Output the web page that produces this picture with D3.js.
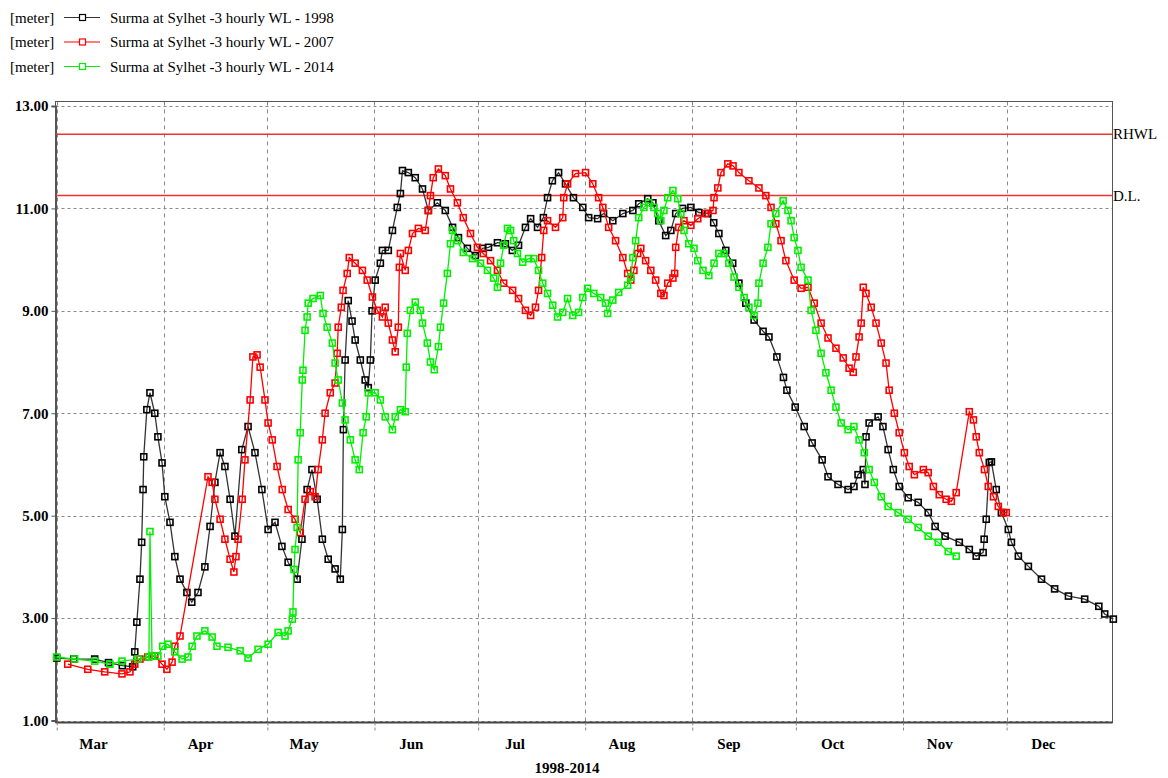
<!DOCTYPE html>
<html><head><meta charset="utf-8">
<script src="https://cdn.jsdelivr.net/npm/d3@7/dist/d3.min.js"></script>
<style>body{margin:0;background:#fff}svg{display:block}</style>
</head><body>
<svg id="chart" width="1168" height="778"></svg>
<script>
// ---- data ----
const months = ["Mar","Apr","May","Jun","Jul","Aug","Sep","Oct","Nov","Dec"];
const yTicks = [1, 3, 5, 7, 9, 11, 13];
const xTitle = "1998-2014";
const unitLabel = "[meter]";
const seriesNames = ["Surma at Sylhet -3 hourly WL - 1998", "Surma at Sylhet -3 hourly WL - 2007", "Surma at Sylhet -3 hourly WL - 2014"];
const refNames = ["RHWL", "D.L."];
const refValues = [12.45, 11.25];

// days since 1 March, water level [m]
const days1998 = [0,5,11,15,19,22,22.6,23.2,24.1,24.6,25.0,25.2,26.1,27,28.4,29.3,30.5,31.3,32.8,34.2,35.7,37.7,39.1,40.9,42.9,44.4,45.8,47.3,48.7,50.2,51.6,53.6,55.4,57.4,59.4,61.2,63.2,65.2,67.0,69.6,71.0,72.5,73.9,75.4,76.9,78.6,80.6,82.1,82.7,83.0,83.5,84.4,85.5,86.4,87.9,89.3,90.2,90.8,91.3,92.2,93.7,94.3,96,97.2,98.6,99.5,100.1,101.8,103.8,105.9,107.6,110.2,112.5,114.6,116.3,118.9,121.2,123.3,125,127.6,129.9,131.9,133.7,135.7,137.2,139.2,140.9,142.1,143.5,145.3,147.3,149.6,152.3,154,156.6,158.3,161,163.9,166.8,168.5,171.1,172.6,174.3,176.3,177.8,179.2,181.2,183.6,185.9,188.5,190.2,191.7,193.7,195.7,197.5,199.5,201.9,204.5,206.2,208.5,210.4,211.4,213.8,216.4,218.7,221.6,223.3,226.2,229.1,230.8,232,233.5,234,234.3,235.2,237.8,239.2,240.7,242.2,243.9,246.5,249.4,252.3,254.3,257.2,261.3,264.2,266.2,268.2,268.5,269.1,270,270.6,272,273.5,275.5,276.4,278.4,281.3,285.1,288.9,292.9,297.6,301.7,303.4,305.9];
const wl1998 = [2.22,2.2,2.2,2.13,2.07,2.05,2.34,2.92,3.76,4.48,5.51,6.15,7.07,7.4,7.0,6.54,6.03,5.37,4.87,4.2,3.76,3.5,3.31,3.5,4.0,4.79,5.65,6.23,5.96,5.32,4.6,6.29,6.74,6.23,5.51,4.73,4.87,4.4,4.09,3.76,4.54,5.51,5.9,5.32,4.54,4.15,3.96,3.76,4.73,6.68,8.04,9.2,8.8,8.43,8.04,7.65,7.5,8.04,9.0,9.6,9.93,10.18,10.18,10.57,11.02,11.29,11.74,11.7,11.6,11.38,10.96,11.11,10.96,10.63,10.43,10.22,10.08,10.22,10.24,10.33,10.31,10.18,10.28,10.63,10.8,10.63,10.82,11.21,11.54,11.7,11.48,11.21,11.02,10.82,10.8,10.9,10.76,10.9,10.96,11.09,11.19,11.11,10.76,10.47,10.57,10.9,11.0,11.02,10.92,10.9,10.72,10.51,10.18,9.93,9.54,9.15,8.82,8.6,8.49,8.1,7.7,7.45,7.12,6.74,6.42,6.09,5.76,5.61,5.51,5.57,5.8,5.9,5.61,6.54,6.81,6.93,6.74,6.29,5.9,5.57,5.35,5.26,5.06,4.79,4.6,4.48,4.34,4.21,4.28,4.54,4.93,6.04,6.05,5.51,5.06,4.73,4.48,4.21,4.01,3.76,3.57,3.43,3.37,3.23,3.08,2.98];

const days2007 = [3.2,9.0,13.9,18.9,21.2,22.6,24.1,26.4,28.4,30.5,31.9,33.4,34.2,35.7,43.8,45.0,45.8,47.3,48.7,50.2,51.3,51.9,52.5,53.7,54.5,56.0,56.8,58.0,58.9,60.3,61.2,62.4,63.8,65.3,67.0,69.0,70.5,71.9,73.4,74.8,75.7,76.9,77.7,79.2,80.6,81.2,81.5,82.4,82.9,84.1,84.7,86.4,88.5,89.9,91.4,92.8,94.3,95.1,96.0,97.2,98.0,98.9,99.2,99.5,100.9,101.8,103.0,104.7,106.7,107.6,108.2,109.0,110.5,112.5,114.0,116.0,117.7,119.8,121.8,123.5,125.6,127.6,129.4,132.0,133.7,135.7,137.2,138.6,139.5,140.4,141.0,142.1,144.4,146.5,146.8,147.9,150.2,153.1,155.2,156.9,158.1,159.8,161.8,163.9,165.3,166.2,167.1,168.2,169.1,170.5,172.0,173.4,174.9,175.8,176.9,178.4,178.9,179.2,180.1,181.6,183.6,185.6,187.9,190.0,190.3,191.4,192.3,194.3,195.8,197.5,200.4,203.3,205.3,206.8,208.2,209.7,211.1,213.5,215.5,217.5,219.3,221.3,223.3,225.6,227.7,229.4,230.6,231.4,232.3,232.9,233.5,234.3,235.8,237.2,238.7,240.1,241.0,242.5,243.9,245.4,246.8,248.3,250.9,252.3,253.8,255.5,257.5,259.0,260.4,264.2,265.4,266.2,267.1,268.6,269.7,271.2,272.6,274.1,274.9];
const wl2007 = [2.1,2.0,1.95,1.91,1.95,2.1,2.2,2.24,2.26,2.1,2.0,2.14,2.45,2.65,5.76,5.65,5.32,4.93,4.54,4.15,3.9,4.2,4.54,5.32,6.09,7.26,8.1,8.14,7.9,7.26,6.81,6.48,5.96,5.51,5.12,4.93,4.67,5.32,5.47,5.37,5.9,6.48,7.0,7.4,7.59,8.17,8.68,9.07,9.4,9.73,10.04,9.93,9.79,9.6,9.27,9.01,8.88,9.07,8.76,8.43,8.2,8.68,9.85,10.12,9.79,10.18,10.51,10.61,10.57,10.96,11.25,11.6,11.77,11.64,11.38,11.11,10.82,10.51,10.24,10.12,9.98,9.79,9.54,9.4,9.24,9.01,8.91,9.07,9.4,10.04,10.57,10.76,10.63,10.82,11.21,11.48,11.68,11.7,11.48,11.21,11.02,10.63,10.37,10.04,9.73,9.6,9.79,10.12,10.22,9.98,9.79,9.6,9.34,9.3,9.54,9.64,9.73,10.24,10.63,10.76,10.67,10.8,10.9,10.96,11.21,11.4,11.7,11.87,11.83,11.7,11.54,11.4,11.25,11.02,10.7,10.37,9.98,9.6,9.44,9.46,9.15,8.76,8.47,8.27,8.08,7.88,7.8,8.1,8.49,8.76,9.46,9.34,9.07,8.76,8.37,7.98,7.45,7.0,6.62,6.23,5.96,5.8,5.9,5.84,5.57,5.41,5.32,5.28,5.45,7.03,6.87,6.54,6.23,5.9,5.57,5.37,5.18,5.06,5.06];

const days2014 = [0,5.2,11.0,15.4,18.9,23.5,26.7,27.0,27.6,29.3,30.7,32.2,34.2,36.3,38.0,39.2,40.6,42.9,45.0,46.4,49.6,53.1,55.4,58.3,61.2,64.1,66.1,67.0,68.2,68.4,68.7,69.0,69.6,69.9,70.5,71.1,71.3,71.9,72.5,72.8,74.2,76.3,77.1,78.3,79.8,80.6,81.5,82.7,83.5,85.0,86.4,87.6,88.7,89.6,90.2,92.2,93.7,95.1,97.2,98.0,99.5,100.9,101.2,101.5,102.4,103.8,105.3,105.9,107.3,108.2,109.3,110.5,111.1,112.0,113.1,114.0,114.6,116.0,117.7,120.4,122.7,124.7,126.5,127.6,128.5,129.4,130.5,131.4,132.3,133.4,134.9,136.6,138.1,139.5,140.7,142.1,143.6,145.0,146.5,147.9,149.4,151.1,152.3,153.7,155.5,157.5,158.9,159.5,161.0,162.7,165.3,166.2,166.8,167.6,168.5,170.0,171.4,172.9,174.0,174.9,175.8,176.9,178.4,179.8,180.7,181.6,183.0,184.5,185.6,187.1,188.8,190.3,191.7,193.2,194.6,196.1,197.5,199.0,200.4,201.9,203.0,203.3,204.5,205.9,206.8,208.2,210.3,211.7,212.6,213.5,214.6,215.5,217.5,218.4,219.8,221.3,222.7,224.2,225.6,227.1,229.1,230.8,232.3,233.8,235.2,236.7,238.7,240.7,243.6,246.5,249.4,252.3,255.2,258.1,260.4];
const wl2014 = [2.24,2.2,2.16,2.1,2.16,2.2,2.24,4.69,2.26,2.26,2.45,2.49,2.34,2.2,2.24,2.45,2.65,2.75,2.63,2.45,2.43,2.36,2.22,2.39,2.49,2.72,2.65,2.75,2.98,3.12,3.95,4.34,4.77,6.09,6.62,7.65,7.84,8.62,8.88,9.15,9.24,9.3,8.95,8.68,8.37,7.98,7.65,7.2,6.87,6.48,6.09,5.9,6.62,6.93,7.4,7.4,7.26,6.93,6.68,6.93,7.07,7.03,7.9,8.56,9.01,9.17,9.01,8.76,8.37,8.0,7.85,8.3,8.68,9.15,9.73,10.31,10.57,10.37,10.14,10.02,9.93,9.79,9.64,9.46,9.93,10.28,10.61,10.57,10.37,10.12,9.95,10.02,10.02,9.79,9.54,9.34,9.11,8.88,8.97,9.24,8.91,8.97,9.26,9.44,9.34,9.26,9.15,8.95,9.21,9.36,9.5,9.66,10.04,10.37,10.82,11.02,11.11,11.02,10.9,10.76,10.96,11.21,11.35,11.19,10.9,10.57,10.31,10.22,9.98,9.79,9.69,9.93,10.12,10.12,9.93,9.66,9.46,9.26,9.07,8.91,9.15,9.54,9.93,10.24,10.7,10.9,11.15,10.96,10.76,10.43,10.18,9.85,9.6,9.01,8.62,8.17,7.79,7.45,7.12,6.81,6.68,6.74,6.48,6.23,5.9,5.65,5.37,5.18,5.06,4.93,4.77,4.6,4.48,4.3,4.21];

const seriesColors = ["#000000", "#ff0000", "#00f000"];
const lineColors = ["#333333", "#ff0000", "#00f000"];

// ---- chart ----
const svg = d3.select("#chart");
const L = 55.5, R = 1112.5, T = 101.5, B = 722.5;
const season0 = Date.UTC(2014, 2, 1);
const DAY = 864e5;
const toDate = d => new Date(season0 + d * DAY);

const x = d3.scaleUtc().domain([toDate(0), toDate(305.6)]).range([56.7, 1112.3]);
const y = d3.scaleLinear().domain([1, 13]).range([720.5, 106]);

const font = "'Liberation Serif','Times New Roman',serif";

// grid
const monthStarts = months.map((m, i) => new Date(Date.UTC(2014, 2 + i, 1)));
svg.append("g").selectAll("line").data(yTicks).join("line")
  .attr("x1", L).attr("x2", R).attr("y1", d => Math.round(y(d)) + 0.5).attr("y2", d => Math.round(y(d)) + 0.5)
  .attr("stroke", "#8a8a8a").attr("stroke-width", 1).attr("stroke-dasharray", "3,3");
svg.append("g").selectAll("line").data(monthStarts).join("line")
  .attr("x1", d => Math.round(x(d)) + 0.5).attr("x2", d => Math.round(x(d)) + 0.5).attr("y1", T).attr("y2", B)
  .attr("stroke", "#8a8a8a").attr("stroke-width", 1).attr("stroke-dasharray", "4,4");

// frame
svg.append("rect").attr("x", L).attr("y", T).attr("width", R - L).attr("height", B - T)
  .attr("fill", "none").attr("stroke", "#555").attr("stroke-width", 1);

// y axis
const yAxis = svg.append("g").attr("transform", `translate(${L},0)`)
  .call(d3.axisLeft(y).tickValues(yTicks).tickFormat(d3.format(".2f")).tickSize(4).tickPadding(3));
yAxis.select(".domain").attr("stroke", "#555").attr("stroke-width", 2);
yAxis.selectAll(".tick line").attr("stroke", "#555");
yAxis.selectAll("text").attr("font-family", font).attr("font-size", 15).attr("font-weight", "bold").attr("fill", "#000");

// x axis ticks
const xAxis = svg.append("g").attr("transform", `translate(0,${B})`)
  .call(d3.axisBottom(x).tickValues(monthStarts).tickSize(8).tickFormat(""));
xAxis.select(".domain").attr("stroke", "#444").attr("stroke-width", 2).attr("d", `M${L},0H${R}`);
xAxis.selectAll(".tick line").attr("stroke", "#888").attr("stroke-dasharray", "3,2");
// month labels
const labelDates = months.map((m, i) => new Date(Date.UTC(2014, 2 + i, 11, 12)));
const xLab = svg.append("g").attr("transform", `translate(0,${B})`)
  .call(d3.axisBottom(x).tickValues(labelDates).tickSize(0).tickPadding(16).tickFormat((d, i) => months[i]));
xLab.select(".domain").remove();
xLab.selectAll("text").attr("font-family", font).attr("font-size", 15).attr("font-weight", "bold").attr("fill", "#000");

svg.append("text").attr("x", 567).attr("y", 773).attr("text-anchor", "middle")
  .attr("font-family", font).attr("font-size", 15).attr("font-weight", "bold").text(xTitle);

// reference lines
refValues.forEach((v, i) => {
  svg.append("line").attr("x1", L).attr("x2", R).attr("y1", y(v)).attr("y2", y(v))
    .attr("stroke", "#ee3333").attr("stroke-width", 1.5);
  svg.append("text").attr("x", R + 0.5).attr("y", y(v) + 5).attr("font-family", font).attr("font-size", 15)
    .attr("fill", "#000").text(refNames[i]);
});

// series
const series = [
  days1998.map((d, i) => ({ t: toDate(d), v: wl1998[i] })),
  days2007.map((d, i) => ({ t: toDate(d), v: wl2007[i] })),
  days2014.map((d, i) => ({ t: toDate(d), v: wl2014[i] }))
];
const line = d3.line().x(d => x(d.t)).y(d => y(d.v));
const plot = svg.append("g");
series.forEach((s, i) => {
  const g = plot.append("g");
  g.append("path").datum(s).attr("d", line).attr("fill", "none").attr("stroke", lineColors[i]).attr("stroke-width", 1.3);
  g.selectAll("rect").data(s).join("rect")
    .attr("x", d => x(d.t) - 3).attr("y", d => y(d.v) - 3).attr("width", 6).attr("height", 6)
    .attr("fill", "none").attr("stroke", seriesColors[i]).attr("stroke-width", 1.6);
});

// legend
seriesNames.forEach((name, i) => {
  const cy = 17.5 + i * 24.5;
  const g = svg.append("g");
  g.append("text").attr("x", 10).attr("y", cy + 5).attr("font-family", font).attr("font-size", 15).text(unitLabel);
  g.append("line").attr("x1", 64).attr("x2", 100).attr("y1", cy).attr("y2", cy).attr("stroke", lineColors[i]).attr("stroke-width", 1.2);
  g.append("rect").attr("x", 79.5).attr("y", cy - 3).attr("width", 6).attr("height", 6)
    .attr("fill", "#fff").attr("stroke", seriesColors[i]).attr("stroke-width", 1.2);
  g.append("text").attr("x", 110).attr("y", cy + 5).attr("font-family", font).attr("font-size", 15).text(name);
});
</script>
</body></html>
